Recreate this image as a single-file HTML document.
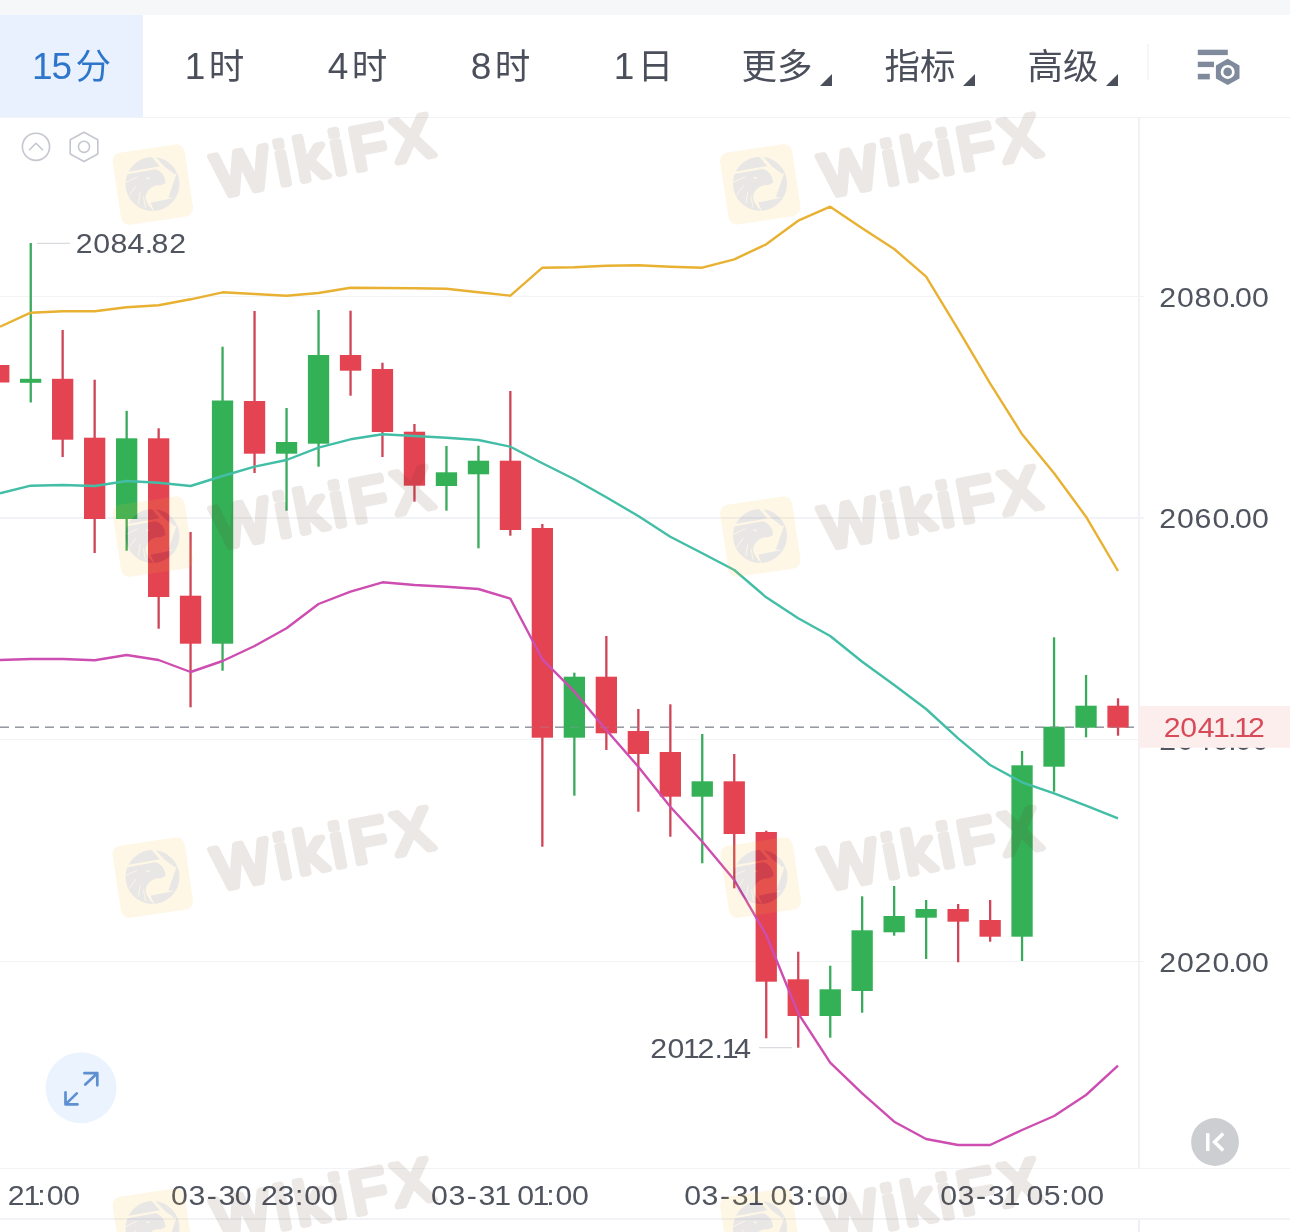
<!DOCTYPE html>
<html lang="zh-CN">
<head>
<meta charset="utf-8">
<title>Chart</title>
<style>
html,body{margin:0;padding:0;background:#fff;}
body{width:1290px;height:1232px;position:relative;overflow:hidden;font-family:"Liberation Sans","Noto Sans CJK SC",sans-serif;color:#4a4f5b;}
.abs{position:absolute;}
.topstrip{left:0;top:0;width:1290px;height:14.5px;background:#f6f7f9;}
.tab{position:absolute;top:14.5px;height:102.5px;width:143px;text-align:center;line-height:104px;font-size:35.5px;color:#4a4f5b;white-space:nowrap;will-change:transform;}
.tab.sel{background:#e8f1fd;color:#2e75cc;}
.tab .tri{display:inline-block;width:0;height:0;border-left:12px solid transparent;border-bottom:12px solid #4a4f5b;margin-left:7px;vertical-align:-6.5px;}
.tab .d{font-size:37px;letter-spacing:-1px;}
.tab .g{margin-left:4.5px;}
.hline{position:absolute;left:0;height:1.5px;background:#f2f3f6;}
.ylab{position:absolute;left:1161px;font-size:28px;letter-spacing:0.85px;line-height:30px;color:#4a4f5b;}
.xlab{position:absolute;top:1180px;font-size:28px;letter-spacing:0.8px;line-height:30px;color:#4a4f5b;white-space:nowrap;}
svg{position:absolute;left:0;top:0;}
</style>
</head>
<body>
<div class="abs topstrip"></div>
<div class="tab sel" style="left:0"><span class="d">15</span><span class="g" style="margin-left:4.5px">分</span></div>
<div class="tab" style="left:143px"><span class="d">1</span><span class="g">时</span></div>
<div class="tab" style="left:286px"><span class="d">4</span><span class="g">时</span></div>
<div class="tab" style="left:429px"><span class="d">8</span><span class="g">时</span></div>
<div class="tab" style="left:572px"><span class="d">1</span><span class="g">日</span></div>
<div class="tab" style="left:715px">更多<span class="tri"></span></div>
<div class="tab" style="left:858px">指标<span class="tri"></span></div>
<div class="tab" style="left:1001px">高级<span class="tri"></span></div>
<div class="abs" style="left:1147px;top:44px;width:1.5px;height:36px;background:#f5f6f8;"></div>
<div class="hline" style="top:116.7px;width:1290px;"></div>

<!-- grid -->
<div class="hline" style="top:295.8px;width:1143.5px;"></div>
<div class="hline" style="top:517.3px;width:1143.5px;"></div>
<div class="hline" style="top:738.9px;width:1143.5px;"></div>
<div class="hline" style="top:960.5px;width:1143.5px;"></div>
<div class="hline" style="top:1167.5px;width:1290px;"></div>
<div class="hline" style="top:1218.4px;width:1290px;"></div>
<div class="abs" style="left:1138.3px;top:117px;width:1.5px;height:1051px;background:#f1f2f6;"></div>
<div class="abs" style="left:1138.3px;top:1220px;width:1.5px;height:12px;background:#eef0f5;"></div>

<!-- y labels -->

<svg width="1290" height="1232" viewBox="0 0 1290 1232">
<defs>
<g id="wm" opacity="0.118">
<g transform="translate(0.3,0.6) rotate(-8.5)"><rect x="-36.4" y="-36.4" width="72.8" height="72.8" rx="8.5" fill="#f3bb2a"/></g>
<clipPath id="wmc"><circle cx="0" cy="0" r="27"/></clipPath>
<g clip-path="url(#wmc)" fill="#3a3230">
<polygon points="-25.2,-12.0 7.3,-17.7 -1.5,-27.8 -4.1,-37.3 -33.3,-37.3 -33.3,-11.4"/>
<polygon points="2.4,-27.8 12.2,-17.2 22.3,-9.7 32.5,-15.4 31.7,-37.3 2.4,-37.3"/>
<polygon points="24.5,-11.5 32.5,-13.8 32.5,14.6 15.9,13.5"/>
<polygon points="-1.9,18.8 23.9,13.6 32.5,15.4 31.7,31.7 3.7,31.7"/>
<path d="M-26.0,-9.6 L2.4,-14.8 C8.9,-13.8 13.0,-7.3 13.1,-1.0 L7.7,1.5 C4.1,0.8 -4.1,2.4 -6.9,12.2 C-7.3,17.9 -2.4,23.5 2.4,28.4 L-33.3,31.7 L-33.3,-8.9 Z"/>
</g>
<path d="M-7.6,-6.6 L-2.2,-6.2 L-4.6,-4.4 Z" fill="#f3bb2a"/>
<g clip-path="url(#wmc)" stroke="#f3bb2a" stroke-width="0.9" stroke-linecap="round" fill="none">
<path d="M-26.5,-1.6 L-15.4,-6.9 M-23,11 L-16.6,2 M-14,19.5 L-12.4,8.6 M-7,23.5 L-9,13"/>
</g>
<g transform="translate(65.5,13.2) rotate(-11)">
<text x="0" y="0" font-family="Liberation Sans, sans-serif" font-size="60" letter-spacing="6.4" fill="#5c3a28" stroke="#5c3a28" stroke-width="6.5" stroke-linejoin="round" stroke-linecap="round">WikiFX</text>
</g>
</g>
</defs>
<g font-family="Liberation Sans, sans-serif">
<text transform="scale(1.09,1)" x="1071.38 1087.61 1103.58 1120.05 1130.73 1140.83 1156.28" y="306.9" text-anchor="middle" font-size="27.8" fill="#4f545f">2080.00</text>
<text transform="scale(1.09,1)" x="1071.38 1087.61 1103.58 1120.05 1130.73 1140.83 1156.28" y="528.4" text-anchor="middle" font-size="27.8" fill="#4f545f">2060.00</text>
<text transform="scale(1.09,1)" x="1071.38 1087.61 1103.58 1120.05 1130.73 1140.83 1156.28" y="750.0" text-anchor="middle" font-size="27.8" fill="#4f545f">2040.00</text>
<text transform="scale(1.09,1)" x="1071.38 1087.61 1103.58 1120.05 1130.73 1140.83 1156.28" y="971.6" text-anchor="middle" font-size="27.8" fill="#4f545f">2020.00</text>
</g>
<rect x="1139" y="706" width="151" height="41.8" fill="#fdeeee"/>
<g font-family="Liberation Sans, sans-serif">
<text transform="scale(1.09,1)" x="1075.41 1090.46 1106.70 1120.64 1130.46 1140.00 1152.75" y="737.2" text-anchor="middle" font-size="27.8" fill="#d84a58">2041.12</text>
<text transform="scale(1.09,1)" x="77.34 93.21 109.17 124.77 136.65 146.70 163.12" y="253.2" text-anchor="middle" font-size="27.8" fill="#4f545f">2084.82</text>
<text transform="scale(1.09,1)" x="604.40 620.18 634.31 647.61 659.27 669.91 681.28" y="1057.8" text-anchor="middle" font-size="27.8" fill="#4f545f">2012.14</text>
<text transform="scale(1.09,1)" x="14.86 29.31 38.07 50.55 65.73" y="1204.6" text-anchor="middle" font-size="27.8" fill="#4f545f">21:00</text>
<text transform="scale(1.09,1)" x="164.68 180.60 194.40 208.26 223.12 232.11 247.11 262.34 274.45 286.93 302.16" y="1204.6" text-anchor="middle" font-size="27.8" fill="#4f545f">03-30 23:00</text>
<text transform="scale(1.09,1)" x="403.21 419.13 432.94 446.79 461.28 470.92 482.25 496.24 504.91 517.39 532.61" y="1204.6" text-anchor="middle" font-size="27.8" fill="#4f545f">03-31 01:00</text>
<text transform="scale(1.09,1)" x="635.50 651.42 665.23 679.08 693.58 703.21 714.54 730.46 742.57 755.05 770.28" y="1204.6" text-anchor="middle" font-size="27.8" fill="#4f545f">03-31 03:00</text>
<text transform="scale(1.09,1)" x="870.37 886.28 900.09 913.94 928.44 938.07 949.40 965.32 977.43 989.91 1005.14" y="1204.6" text-anchor="middle" font-size="27.8" fill="#4f545f">03-31 05:00</text>
</g>
<!-- dashed current price line -->
<line x1="0" y1="727.2" x2="1134" y2="727.2" stroke="#959aa3" stroke-width="1.6" stroke-dasharray="9 6"/>
<!-- high/low marker lines -->
<line x1="37" y1="243.3" x2="70" y2="243.3" stroke="#d9dbe0" stroke-width="1.3"/>
<line x1="759" y1="1047.7" x2="792" y2="1047.7" stroke="#d9dbe0" stroke-width="1.3"/>
<!-- candles -->
<rect x="-2.4" y="345.0" width="2.3" height="66.7" fill="#cf4557"/>
<rect x="-11.9" y="365.0" width="21.3" height="17.5" fill="#e44352"/>
<rect x="29.6" y="243.0" width="2.3" height="159.5" fill="#3aaa5b"/>
<rect x="20.0" y="378.8" width="21.3" height="4.0" fill="#34b157"/>
<rect x="61.5" y="330.0" width="2.3" height="127.0" fill="#cf4557"/>
<rect x="52.0" y="378.8" width="21.3" height="60.9" fill="#e44352"/>
<rect x="93.5" y="379.7" width="2.3" height="173.3" fill="#cf4557"/>
<rect x="84.0" y="437.7" width="21.3" height="81.3" fill="#e44352"/>
<rect x="125.5" y="410.8" width="2.3" height="139.9" fill="#3aaa5b"/>
<rect x="116.0" y="438.3" width="21.3" height="80.7" fill="#34b157"/>
<rect x="157.5" y="428.3" width="2.3" height="200.4" fill="#cf4557"/>
<rect x="148.0" y="438.3" width="21.3" height="158.7" fill="#e44352"/>
<rect x="189.4" y="532.0" width="2.3" height="175.3" fill="#cf4557"/>
<rect x="179.9" y="595.7" width="21.3" height="48.0" fill="#e44352"/>
<rect x="221.4" y="346.7" width="2.3" height="324.0" fill="#3aaa5b"/>
<rect x="211.9" y="400.5" width="21.3" height="243.2" fill="#34b157"/>
<rect x="253.4" y="311.0" width="2.3" height="162.0" fill="#cf4557"/>
<rect x="243.9" y="401.0" width="21.3" height="52.7" fill="#e44352"/>
<rect x="285.4" y="408.0" width="2.3" height="102.7" fill="#3aaa5b"/>
<rect x="275.9" y="442.0" width="21.3" height="11.7" fill="#34b157"/>
<rect x="317.4" y="310.0" width="2.3" height="156.7" fill="#3aaa5b"/>
<rect x="307.9" y="355.0" width="21.3" height="88.7" fill="#34b157"/>
<rect x="349.4" y="310.7" width="2.3" height="85.0" fill="#cf4557"/>
<rect x="339.9" y="355.0" width="21.3" height="15.7" fill="#e44352"/>
<rect x="381.3" y="362.7" width="2.3" height="94.3" fill="#cf4557"/>
<rect x="371.8" y="369.0" width="21.3" height="63.0" fill="#e44352"/>
<rect x="413.3" y="424.0" width="2.3" height="77.7" fill="#cf4557"/>
<rect x="403.8" y="431.7" width="21.3" height="54.0" fill="#e44352"/>
<rect x="445.3" y="446.0" width="2.3" height="64.7" fill="#3aaa5b"/>
<rect x="435.8" y="472.3" width="21.3" height="13.7" fill="#34b157"/>
<rect x="477.3" y="445.7" width="2.3" height="102.6" fill="#3aaa5b"/>
<rect x="467.8" y="460.7" width="21.3" height="13.6" fill="#34b157"/>
<rect x="509.2" y="391.0" width="2.3" height="144.7" fill="#cf4557"/>
<rect x="499.8" y="460.7" width="21.3" height="69.3" fill="#e44352"/>
<rect x="541.2" y="524.0" width="2.3" height="322.7" fill="#cf4557"/>
<rect x="531.7" y="528.0" width="21.3" height="209.7" fill="#e44352"/>
<rect x="573.2" y="672.7" width="2.3" height="123.0" fill="#3aaa5b"/>
<rect x="563.7" y="676.7" width="21.3" height="61.0" fill="#34b157"/>
<rect x="605.2" y="636.0" width="2.3" height="114.0" fill="#cf4557"/>
<rect x="595.7" y="676.7" width="21.3" height="56.6" fill="#e44352"/>
<rect x="637.2" y="709.0" width="2.3" height="102.7" fill="#cf4557"/>
<rect x="627.7" y="731.0" width="21.3" height="23.0" fill="#e44352"/>
<rect x="669.2" y="704.3" width="2.3" height="132.4" fill="#cf4557"/>
<rect x="659.7" y="752.0" width="21.3" height="44.7" fill="#e44352"/>
<rect x="701.1" y="734.0" width="2.3" height="129.3" fill="#3aaa5b"/>
<rect x="691.6" y="781.3" width="21.3" height="15.4" fill="#34b157"/>
<rect x="733.1" y="754.0" width="2.3" height="134.3" fill="#cf4557"/>
<rect x="723.6" y="781.3" width="21.3" height="52.7" fill="#e44352"/>
<rect x="765.1" y="830.7" width="2.3" height="207.6" fill="#cf4557"/>
<rect x="755.6" y="832.0" width="21.3" height="149.7" fill="#e44352"/>
<rect x="797.1" y="951.7" width="2.3" height="96.0" fill="#cf4557"/>
<rect x="787.6" y="979.3" width="21.3" height="36.7" fill="#e44352"/>
<rect x="829.1" y="965.7" width="2.3" height="72.0" fill="#3aaa5b"/>
<rect x="819.6" y="989.3" width="21.3" height="26.7" fill="#34b157"/>
<rect x="861.0" y="896.3" width="2.3" height="116.4" fill="#3aaa5b"/>
<rect x="851.5" y="930.3" width="21.3" height="60.7" fill="#34b157"/>
<rect x="893.0" y="886.0" width="2.3" height="49.7" fill="#3aaa5b"/>
<rect x="883.5" y="916.0" width="21.3" height="16.3" fill="#34b157"/>
<rect x="925.0" y="900.0" width="2.3" height="59.0" fill="#3aaa5b"/>
<rect x="915.5" y="909.0" width="21.3" height="8.7" fill="#34b157"/>
<rect x="957.0" y="904.0" width="2.3" height="58.3" fill="#cf4557"/>
<rect x="947.5" y="909.0" width="21.3" height="12.7" fill="#e44352"/>
<rect x="989.0" y="900.0" width="2.3" height="41.7" fill="#cf4557"/>
<rect x="979.5" y="920.0" width="21.3" height="16.7" fill="#e44352"/>
<rect x="1020.9" y="751.0" width="2.3" height="210.0" fill="#3aaa5b"/>
<rect x="1011.4" y="765.3" width="21.3" height="171.4" fill="#34b157"/>
<rect x="1052.9" y="637.3" width="2.3" height="154.4" fill="#3aaa5b"/>
<rect x="1043.4" y="726.7" width="21.3" height="40.0" fill="#34b157"/>
<rect x="1084.9" y="675.0" width="2.3" height="62.3" fill="#3aaa5b"/>
<rect x="1075.4" y="705.7" width="21.3" height="22.0" fill="#34b157"/>
<rect x="1116.9" y="698.3" width="2.3" height="37.4" fill="#cf4557"/>
<rect x="1107.4" y="705.7" width="21.3" height="22.0" fill="#e44352"/>
<line x1="0" y1="727.2" x2="1134" y2="727.2" stroke="#959aa3" stroke-width="1.6" stroke-dasharray="9 6" opacity="0.3"/>
<!-- bands -->
<polyline points="0.0,326.7 30.7,312.7 62.7,311.3 94.7,311.3 126.6,307.3 158.6,305.3 190.6,299.3 222.6,292.3 254.6,294.0 286.5,295.7 318.5,293.0 350.5,287.7 382.5,288.0 414.5,288.3 446.4,288.7 478.4,292.3 510.4,295.7 542.4,267.7 574.4,267.3 606.3,265.7 638.3,265.3 670.3,266.7 702.3,267.7 734.3,259.3 766.2,244.3 798.2,220.7 830.2,206.7 862.2,228.3 894.2,249.0 926.1,276.7 958.1,329.3 990.1,383.3 1022.1,434.3 1054.1,473.3 1086.0,516.7 1118.0,571.0" fill="none" stroke="#e8b131" stroke-width="2.4" stroke-linejoin="round"/>
<polyline points="0.0,493.3 30.7,485.7 62.7,485.0 94.7,486.0 126.6,481.0 158.6,482.7 190.6,486.0 222.6,476.0 254.6,466.7 286.5,460.0 318.5,447.7 350.5,439.3 382.5,434.3 414.5,436.0 446.4,437.7 478.4,440.0 510.4,446.7 542.4,463.3 574.4,479.3 606.3,497.3 638.3,516.0 670.3,536.7 702.3,553.3 734.3,570.0 766.2,597.3 798.2,618.3 830.2,636.0 862.2,661.7 894.2,685.0 926.1,709.0 958.1,738.3 990.1,765.0 1022.1,782.3 1054.1,793.3 1086.0,805.7 1118.0,818.3" fill="none" stroke="#43bea6" stroke-width="2.4" stroke-linejoin="round"/>
<polyline points="0.0,660.0 30.7,659.0 62.7,659.0 94.7,660.3 126.6,655.0 158.6,660.0 190.6,672.0 222.6,661.0 254.6,646.0 286.5,628.3 318.5,604.0 350.5,591.7 382.5,582.3 414.5,585.0 446.4,586.7 478.4,589.0 510.4,598.7 542.4,659.3 574.4,691.7 606.3,730.0 638.3,766.7 670.3,806.7 702.3,841.7 734.3,880.0 766.2,935.0 798.2,1013.3 830.2,1062.7 862.2,1093.3 894.2,1121.7 926.1,1139.0 958.1,1145.0 990.1,1145.0 1022.1,1130.0 1054.1,1116.0 1086.0,1095.0 1118.0,1065.7" fill="none" stroke="#cd4db1" stroke-width="2.4" stroke-linejoin="round"/>
<!-- small icons -->
<circle cx="36" cy="146.8" r="13.6" fill="none" stroke="#c4c7cf" stroke-width="1.6"/>
<polyline points="29.5,149.8 36,143.3 42.5,149.8" fill="none" stroke="#c4c7cf" stroke-width="1.6" stroke-linecap="round" stroke-linejoin="round"/>
<polygon points="84,132.3 97.8,139.8 97.8,154 84,161.5 70.2,154 70.2,139.8" fill="none" stroke="#c4c7cf" stroke-width="1.6" stroke-linejoin="round"/>
<circle cx="84" cy="146.8" r="5.6" fill="none" stroke="#c4c7cf" stroke-width="1.6"/>
<!-- settings icon -->
<rect x="1197.8" y="49.7" width="30" height="5.4" fill="#7f8a9c"/>
<rect x="1197.8" y="61.7" width="16.2" height="5.4" fill="#7f8a9c"/>
<rect x="1197.8" y="73.8" width="12" height="5.6" fill="#7f8a9c"/>
<polygon points="1227.7,58.8 1239.5,65.4 1239.5,78.4 1227.7,85 1215.9,78.4 1215.9,65.4" fill="#7f8a9c"/>
<circle cx="1227.7" cy="71.9" r="7" fill="#fff"/>
<circle cx="1227.7" cy="71.9" r="4.3" fill="#7f8a9c"/>
<!-- fullscreen button -->
<circle cx="81.05" cy="1087.8" r="35.5" fill="#eaf3fe"/>
<g fill="none" stroke="#5e8fd1" stroke-width="2.7" stroke-linecap="round" stroke-linejoin="round">
<path d="M84.4 1073.2 H97.3 V1085.3 M97.3 1073.2 L85.3 1084.6"/>
<path d="M65.5 1092.4 V1104.4 H77.5 M65.5 1104.4 L76.8 1093.4"/>
</g>
<!-- K button -->
<circle cx="1215" cy="1142" r="23.9" fill="#cdced2"/>
<g fill="none" stroke="#fff" stroke-width="3.5" stroke-linecap="butt" stroke-linejoin="miter">
<path d="M1207.75 1133.2 V1151"/>
<path d="M1223.2 1133.6 L1214.6 1142 L1223.2 1150.4"/>
</g>
<!-- watermark -->
<use href="#wm" x="152.5" y="184"/>
<use href="#wm" x="760" y="183.7"/>
<use href="#wm" x="152.5" y="536"/>
<use href="#wm" x="760" y="536"/>
<use href="#wm" x="152.5" y="877"/>
<use href="#wm" x="760.5" y="877"/>
<use href="#wm" x="152.5" y="1228"/>
<use href="#wm" x="760" y="1228"/>
</svg>

<!-- current price label -->

<!-- hi/lo labels -->

<!-- x labels -->
</body>
</html>
